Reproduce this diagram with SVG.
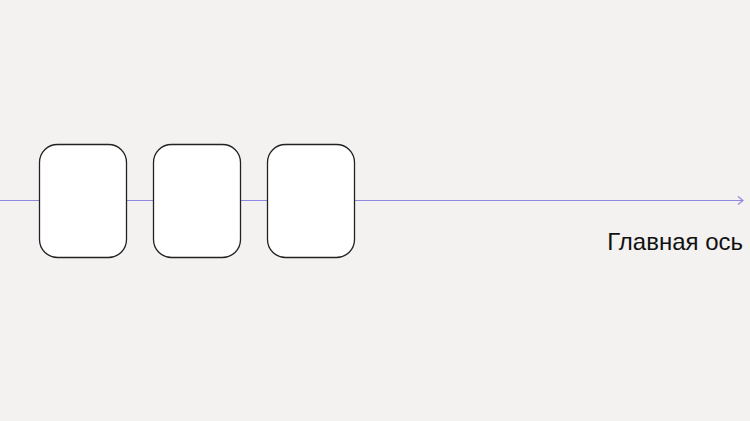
<svg xmlns="http://www.w3.org/2000/svg" width="750" height="421" viewBox="0 0 750 421">
<style>
.card{fill:#ffffff;stroke:#222222;stroke-width:1.3}
.axis{stroke:#8f88e0;stroke-width:1.2;fill:none}
.lbl{font-family:"Liberation Sans",Arial,sans-serif;font-size:24px;fill:#111111}
</style>
<defs>
<marker id="arr" markerWidth="10" markerHeight="10" refX="8" refY="5" orient="auto" markerUnits="userSpaceOnUse">
<path d="M3,1 L8,5 L3,9" fill="none" stroke="#8f88e0" stroke-width="1.2"/>
</marker>
</defs>
<rect width="750" height="421" fill="#f4f1f1"/>
<g id="connectors">
<line class="axis" x1="0" y1="200.5" x2="743" y2="200.5" marker-end="url(#arr)"/>
</g>
<g id="node1"><rect class="card" x="39.5" y="144.5" width="87" height="113" rx="18"/></g>
<g id="node2"><rect class="card" x="153.5" y="144.5" width="87" height="113" rx="18"/></g>
<g id="node3"><rect class="card" x="267.5" y="144.5" width="87" height="113" rx="18"/></g>
<g id="label"><text class="lbl" x="743" y="249.5" text-anchor="end">Главная ось</text></g>
</svg>
